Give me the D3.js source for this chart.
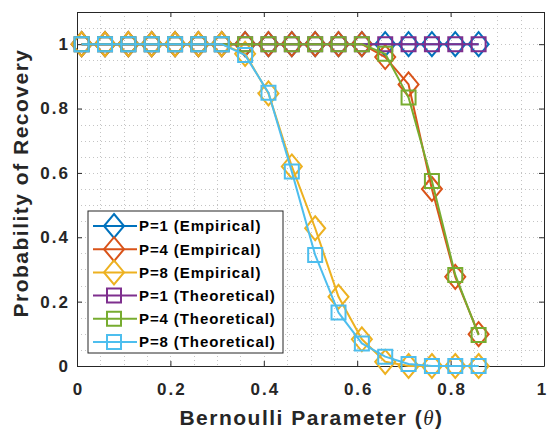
<!DOCTYPE html>
<html>
<head>
<meta charset="utf-8">
<script src="https://cdn.jsdelivr.net/npm/d3@7"></script>
<style>
  html, body { margin: 0; padding: 0; background: #fff; }
  svg { display: block; font-family: "Liberation Sans", Arial, sans-serif; }
</style>
</head>
<body>
<svg id="chart" width="548" height="429"></svg>
<script>
// Bernoulli parameter values at which recovery was evaluated
const theta = [0.01, 0.06, 0.11, 0.16, 0.21, 0.26, 0.31, 0.36, 0.41, 0.46,
               0.51, 0.56, 0.61, 0.66, 0.71, 0.76, 0.81, 0.86];

// Probability of recovery per series
const p1Empirical = [1, 1, 1, 1, 1, 1, 1, 1, 1, 1, 1, 1, 1, 1, 1, 1, 1, 1];
const p4Empirical = [1, 1, 1, 1, 1, 1, 1, 1, 1, 1, 1, 1, 1, 0.96, 0.875, 0.55, 0.277, 0.099];
const p8Empirical = [1, 1, 1, 1, 1, 1, 1, 0.97, 0.847, 0.62, 0.428, 0.215, 0.083, 0.013, 0, 0, 0, 0];
const p1Theoretical = [1, 1, 1, 1, 1, 1, 1, 1, 1, 1, 1, 1, 1, 1, 1, 1, 1, 1];
const p4Theoretical = [1, 1, 1, 1, 1, 1, 1, 1, 1, 1, 1, 1, 1, 0.97, 0.834, 0.575, 0.283, 0.096];
const p8Theoretical = [1, 1, 1, 1, 1, 1, 1, 0.966, 0.849, 0.604, 0.345, 0.166, 0.07, 0.029, 0.006, 0, 0, 0];

const seriesNames = ["P=1 (Empirical)", "P=4 (Empirical)", "P=8 (Empirical)",
                     "P=1 (Theoretical)", "P=4 (Theoretical)", "P=8 (Theoretical)"];
const seriesValues = [p1Empirical, p4Empirical, p8Empirical,
                      p1Theoretical, p4Theoretical, p8Theoretical];
const seriesColors = ["#0072BD", "#D95319", "#EDB120", "#7E2F8E", "#77AC30", "#4DBEEE"];
const seriesMarkers = ["diamond", "diamond", "diamond", "square", "square", "square"];

const xTicks = [0, 0.2, 0.4, 0.6, 0.8, 1];
const yTicks = [0, 0.2, 0.4, 0.6, 0.8, 1];
const xTickLabels = ["0", "0.2", "0.4", "0.6", "0.8", "1"];
const yTickLabels = ["0", "0.2", "0.4", "0.6", "0.8", "1"];

const svg = d3.select("#chart");
const m = { left: 77, right: 544, top: 12, bottom: 366 };
const x = d3.scaleLinear().domain([0, 1]).range([m.left, m.right]);
const y = d3.scaleLinear().domain([0, 1.1]).range([m.bottom, m.top]);
const textColor = "#262626";

// dotted grid every 0.05
const gridX = d3.range(0.05, 1, 0.05);
const gridY = d3.range(0.05, 1.1, 0.05);
const grid = svg.append("g").attr("stroke", "#c4c4c4").attr("stroke-width", 1)
  .attr("stroke-dasharray", "1,3");
grid.selectAll("line.gx").data(gridX).join("line")
  .attr("x1", d => Math.round(x(d)) + 0.5).attr("x2", d => Math.round(x(d)) + 0.5)
  .attr("y1", m.top).attr("y2", m.bottom);
grid.selectAll("line.gy").data(gridY).join("line")
  .attr("y1", d => Math.round(y(d)) + 0.5).attr("y2", d => Math.round(y(d)) + 0.5)
  .attr("x1", m.left).attr("x2", m.right);

// axes with inward ticks on all four sides
const tickLen = 5;
const axisBottom = d3.axisBottom(x).tickValues(xTicks).tickFormat((d, i) => xTickLabels[i])
  .tickSizeInner(-tickLen).tickSizeOuter(0).tickPadding(17);
const axisLeft = d3.axisLeft(y).tickValues(yTicks).tickFormat((d, i) => yTickLabels[i])
  .tickSizeInner(-tickLen).tickSizeOuter(0).tickPadding(7);
const axisTop = d3.axisTop(x).tickValues(xTicks).tickFormat("").tickSizeInner(-tickLen).tickSizeOuter(0);
const axisRight = d3.axisRight(y).tickValues(yTicks).tickFormat("").tickSizeInner(-tickLen).tickSizeOuter(0);

function styleAxis(g) {
  g.select(".domain").attr("stroke", textColor).attr("stroke-width", 1);
  g.selectAll(".tick line").attr("stroke", textColor).attr("stroke-width", 1);
  g.selectAll(".tick text").attr("fill", textColor).attr("font-size", 17)
    .attr("font-weight", "bold").attr("letter-spacing", 2);
}
svg.append("g").attr("transform", `translate(0,${m.bottom})`).call(axisBottom).call(styleAxis)
  .selectAll(".tick text").attr("dx", d => (d === 1 ? -2 : 1));
svg.append("g").attr("transform", `translate(${m.left},0)`).call(axisLeft).call(styleAxis);
svg.append("g").attr("transform", `translate(0,${m.top})`).call(axisTop).call(styleAxis);
svg.append("g").attr("transform", `translate(${m.right},0)`).call(axisRight).call(styleAxis);

// marker shapes
function markerPath(type) {
  if (type === "diamond") return "M0,-12L10,0L0,12L-10,0Z";
  return "M-7,-7H7V7H-7Z";
}

const line = d3.line().x((d, i) => x(theta[i])).y(d => y(d));
const plot = svg.append("g");
seriesValues.forEach((vals, s) => {
  const g = plot.append("g");
  g.append("path").datum(vals).attr("d", line).attr("fill", "none")
    .attr("stroke", seriesColors[s]).attr("stroke-width", 2).attr("stroke-linejoin", "round");
  g.selectAll("path.mk").data(vals).join("path").attr("class", "mk")
    .attr("transform", (d, i) => `translate(${x(theta[i])},${y(d)})`)
    .attr("d", markerPath(seriesMarkers[s]))
    .attr("fill", "none").attr("stroke", seriesColors[s]).attr("stroke-width", 2);
});

// legend
const lg = svg.append("g").attr("transform", "translate(88,211)");
lg.append("rect").attr("width", 195).attr("height", 142)
  .attr("fill", "#fff").attr("stroke", textColor).attr("stroke-width", 1);
seriesNames.forEach((name, s) => {
  const cy = 15 + s * 23.2;
  lg.append("line").attr("x1", 5).attr("x2", 49).attr("y1", cy).attr("y2", cy)
    .attr("stroke", seriesColors[s]).attr("stroke-width", 2);
  lg.append("path").attr("transform", `translate(26,${cy})`)
    .attr("d", markerPath(seriesMarkers[s]))
    .attr("fill", "none").attr("stroke", seriesColors[s]).attr("stroke-width", 2);
  lg.append("text").attr("x", 51).attr("y", cy).attr("dy", "0.36em")
    .attr("font-size", 15).attr("font-weight", "bold").attr("letter-spacing", 0.9)
    .attr("fill", "#000").text(name);
});

// axis titles
const xt = svg.append("text").attr("x", (m.left + m.right) / 2 + 1).attr("y", 425)
  .attr("text-anchor", "middle").attr("font-size", 21).attr("font-weight", "bold")
  .attr("letter-spacing", 1.5).attr("fill", textColor);
xt.append("tspan").text("Bernoulli Parameter (");
xt.append("tspan").attr("font-style", "italic").attr("font-weight", "normal")
  .attr("font-family", "'Liberation Serif', serif").text("θ");
xt.append("tspan").text(")");

svg.append("text").attr("transform", `translate(27.5,183) rotate(-90)`)
  .attr("text-anchor", "middle").attr("font-size", 21).attr("font-weight", "bold")
  .attr("letter-spacing", 1.5).attr("fill", textColor).text("Probability of Recovery");
</script>
</body>
</html>
